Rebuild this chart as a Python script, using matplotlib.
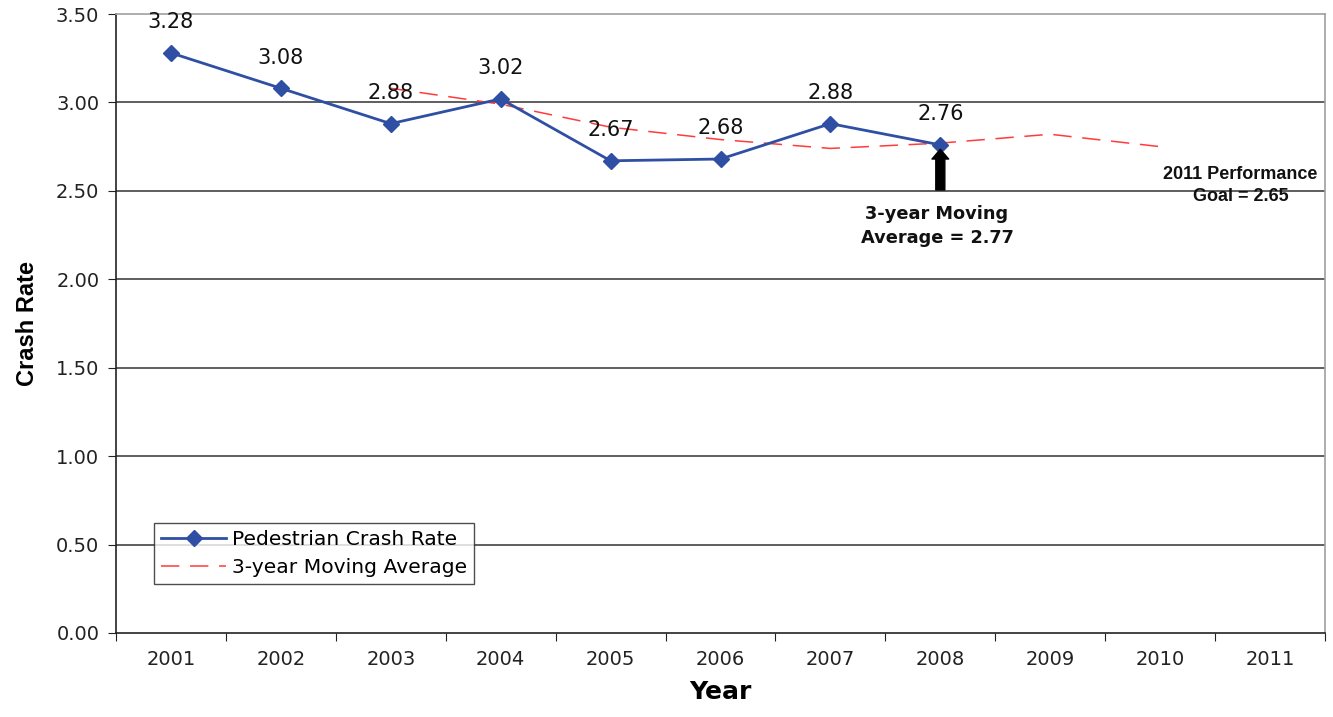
import matplotlib
matplotlib.use("Agg")
import matplotlib.pyplot as plt
import numpy as np

years = ["2001", "2002", "2003", "2004", "2005", "2006", "2007", "2008", "2009", "2010", "2011"]
crash_rate = [3.28, 3.08, 2.88, 3.02, 2.67, 2.68, 2.88, 2.76]
moving_avg = [np.nan, np.nan, 3.08, 2.99, 2.86, 2.79, 2.74, 2.77, 2.82, 2.75]
y_ticks = [0.0, 0.5, 1.0, 1.5, 2.0, 2.5, 3.0, 3.5]

plt.rcParams['font.family'] = ['DejaVu Sans']
LIB = ['Liberation Sans', 'DejaVu Sans']

fig = plt.figure(figsize=(13.33, 7.17), dpi=100)
ax = fig.add_axes([116/1333, 1-633/717, (1325-116)/1333, (633-14)/717])

x_cr = np.arange(len(crash_rate))
x_ma = np.arange(len(moving_avg))

for v in y_ticks[1:-1]:
    ax.axhline(v, color='#333333', lw=1.1, zorder=1)

ax.plot(x_ma, moving_avg, color='#ff3b3b', lw=1.1, dashes=(12, 7), zorder=2,
        label='3-year Moving Average')
ax.plot(x_cr, crash_rate, color='#2e4fa3', lw=2.0, marker='D', ms=8,
        markerfacecolor='#2e4fa3', markeredgecolor='#2e4fa3', zorder=3,
        label='Pedestrian Crash Rate')

for xi, v in zip(x_cr, crash_rate):
    ax.annotate(f"{v:.2f}", (xi, v), xytext=(0, 22), textcoords='offset points',
                ha='center', va='center', fontsize=15, color='#111111')

ax.annotate('', xy=(7, 2.735), xytext=(7, 2.505),
            arrowprops=dict(arrowstyle='simple,head_length=0.7,head_width=1.2,tail_width=0.65',
                            color='black', shrinkA=0, shrinkB=0), zorder=4)
ax.text(6.97, 2.30, "3-year Moving\nAverage = 2.77", ha='center', va='center',
        fontsize=12.8, fontweight='bold', linespacing=1.45, color='#111111')
ax.text(9.73, 2.53, "2011 Performance\nGoal = 2.65", ha='center', va='center',
        fontsize=13, fontweight='bold', linespacing=1.45, color='#111111',
        family=LIB)

ax.set_xlim(-0.5, len(years) - 0.5)
ax.set_ylim(0, 3.5)
ax.set_yticks(y_ticks)
ax.set_yticklabels([f"{v:.2f}" for v in y_ticks], fontsize=14, color='#222222')
ax.set_xticks(np.arange(len(years) + 1) - 0.5)
ax.set_xticklabels([])
ax.set_xticks(np.arange(len(years)), minor=True)
ax.set_xticklabels(years, minor=True, fontsize=14, color='#222222')
ax.tick_params(axis='x', which='minor', length=0, pad=12)
ax.tick_params(axis='x', which='major', length=6, direction='out', color='#222222')
ax.tick_params(axis='y', length=6, direction='out', color='#222222', pad=6)

for s in ['left', 'bottom']:
    ax.spines[s].set_color('#222222')
    ax.spines[s].set_linewidth(1.2)
for s in ['top', 'right']:
    ax.spines[s].set_color('#a0a0a0')
    ax.spines[s].set_linewidth(1.2)

ax.set_ylabel("Crash Rate", fontsize=17, fontweight='bold', labelpad=12, family=LIB)
ax.set_xlabel("Year", fontsize=18, fontweight='bold', labelpad=8)

handles, labels = ax.get_legend_handles_labels()
leg = ax.legend(handles[::-1], labels[::-1], loc='upper left',
                bbox_to_anchor=(38/1209, (633-523)/619), borderaxespad=0,
                fontsize=14.6, frameon=True, fancybox=False, edgecolor='#222222',
                handlelength=3.2, borderpad=0.35, labelspacing=0.45, handletextpad=0.3)
leg.get_frame().set_linewidth(1.0)

fig.savefig("out.png", dpi=100, facecolor='white')
